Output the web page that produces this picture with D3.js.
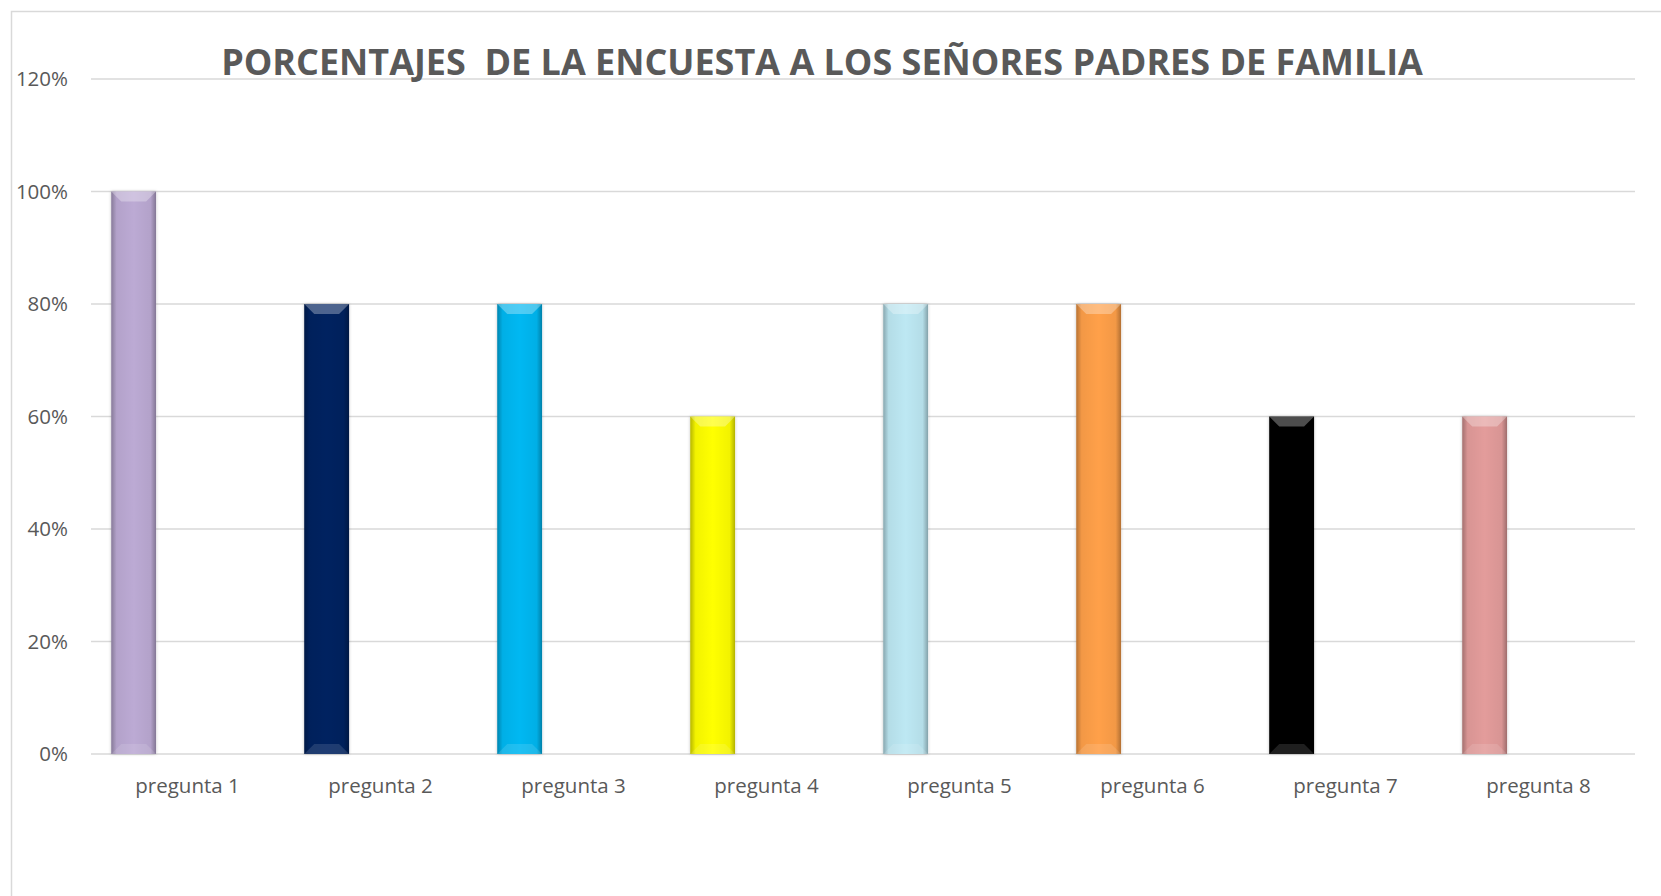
<!DOCTYPE html>
<meta charset="utf-8">
<script src="https://d3js.org/d3.v7.min.js"></script>
<style>
  body { margin: 0; background: #fff; }
</style>
<body>
<script>

var categories = ["pregunta 1", "pregunta 2", "pregunta 3", "pregunta 4",
                  "pregunta 5", "pregunta 6", "pregunta 7", "pregunta 8"];
var values     = [1.00, 0.80, 0.80, 0.60, 0.80, 0.80, 0.60, 0.60];
var barColors  = ["#bcaad4", "#002060", "#00b8f2", "#ffff00",
                  "#bde8f3", "#ffa04a", "#050505", "#e39c9b"];
var yTicks     = [0, 0.2, 0.4, 0.6, 0.8, 1.0, 1.2];
var title      = "PORCENTAJES  DE LA ENCUESTA A LOS SEÑORES PADRES DE FAMILIA";

var W = 1661, H = 896;
var margin = {top: 79, right: 26, bottom: 142, left: 91};
var width  = W - margin.left - margin.right,
    height = H - margin.top - margin.bottom;

var font = "'Open Sans', sans-serif";
var textColor = "#595959";

var svg = d3.select("body").append("svg")
    .attr("width", W)
    .attr("height", H);

// chart area frame (top + left edges visible)
svg.append("path")
    .attr("d", "M11.5," + H + "V11.5H" + W)
    .attr("fill", "none")
    .attr("stroke", "#d9d9d9")
    .attr("stroke-width", 1.5);

var defs = svg.append("defs");
var side = defs.append("linearGradient").attr("id", "sideShade")
    .attr("x1", "0").attr("x2", "1").attr("y1", "0").attr("y2", "0");
side.append("stop").attr("offset", "0").attr("stop-color", "#000").attr("stop-opacity", 0.28);
side.append("stop").attr("offset", "0.12").attr("stop-color", "#000").attr("stop-opacity", 0.05);
side.append("stop").attr("offset", "0.5").attr("stop-color", "#000").attr("stop-opacity", 0);
side.append("stop").attr("offset", "0.88").attr("stop-color", "#000").attr("stop-opacity", 0.05);
side.append("stop").attr("offset", "1").attr("stop-color", "#000").attr("stop-opacity", 0.3);

var shadow = defs.append("filter").attr("id", "barShadow")
    .attr("x", "-20%").attr("y", "-5%").attr("width", "140%").attr("height", "110%");
shadow.append("feDropShadow")
    .attr("dx", 0).attr("dy", 0).attr("stdDeviation", 1.5)
    .attr("flood-color", "#000").attr("flood-opacity", 0.25);

var g = svg.append("g")
    .attr("transform", "translate(" + margin.left + "," + margin.top + ")");

var x = d3.scaleBand().domain(categories).range([0, width]);
var y = d3.scaleLinear().domain([0, 1.2]).range([height, 0]);

// gridlines
g.append("g")
    .selectAll("line")
    .data(yTicks)
    .enter().append("line")
      .attr("x1", 0)
      .attr("x2", width)
      .attr("y1", function(d) { return y(d); })
      .attr("y2", function(d) { return y(d); })
      .attr("stroke", "#d9d9d9")
      .attr("stroke-width", 1.5);

// y axis labels
var yAxis = d3.axisLeft(y)
    .tickValues(yTicks)
    .tickFormat(d3.format(".0%"))
    .tickSize(0)
    .tickPadding(23);

g.append("g")
    .call(yAxis)
    .call(function(s) { s.select(".domain").remove(); })
    .selectAll("text")
      .style("font-family", font)
      .style("font-size", "20.5px")
      .attr("fill", textColor);

// x axis labels
var xAxis = d3.axisBottom(x).tickSize(0).tickPadding(24);

g.append("g")
    .attr("transform", "translate(0," + height + ")")
    .call(xAxis)
    .call(function(s) { s.select(".domain").remove(); })
    .selectAll("text")
      .style("font-family", font)
      .style("font-size", "20.5px")
      .attr("fill", textColor);

// bars sit at the left part of each category band
var barOffset = x.bandwidth() * 0.105,
    barWidth  = x.bandwidth() * 0.232,
    bevel     = 10;

var bars = g.selectAll(".bar")
    .data(categories)
    .enter().append("g")
      .attr("class", "bar")
      .attr("transform", function(d) { return "translate(" + (x(d) + barOffset) + ",0)"; });

bars.append("rect")
    .attr("x", 0)
    .attr("width", barWidth)
    .attr("y", function(d, i) { return y(values[i]); })
    .attr("height", function(d, i) { return y(0) - y(values[i]); })
    .attr("fill", function(d, i) { return barColors[i]; })
    .attr("filter", "url(#barShadow)");

bars.append("rect")
    .attr("x", 0)
    .attr("width", barWidth)
    .attr("y", function(d, i) { return y(values[i]); })
    .attr("height", function(d, i) { return y(0) - y(values[i]); })
    .attr("fill", "url(#sideShade)");

// top bevel
bars.append("path")
    .attr("d", function(d, i) {
        var t = y(values[i]);
        return "M0," + t + "H" + barWidth + "L" + (barWidth - bevel) + "," + (t + bevel) +
               "H" + bevel + "Z";
    })
    .attr("fill", "#fff")
    .attr("fill-opacity", 0.3);

// bottom bevel
bars.append("path")
    .attr("d", function(d, i) {
        var b = y(0);
        return "M0," + b + "H" + barWidth + "L" + (barWidth - bevel) + "," + (b - bevel) +
               "H" + bevel + "Z";
    })
    .attr("fill", "#fff")
    .attr("fill-opacity", 0.12);

// title, sized to span the same width as the original
var t = svg.append("text")
    .attr("x", 822)
    .attr("y", 75)
    .attr("text-anchor", "middle")
    .style("font-family", font)
    .style("font-weight", "bold")
    .style("font-size", "36px")
    .style("white-space", "pre")
    .attr("fill", textColor)
    .text(title);

var len = t.node().getComputedTextLength();
t.style("font-size", (36 * 1202 / len) + "px");

</script>
</body>
